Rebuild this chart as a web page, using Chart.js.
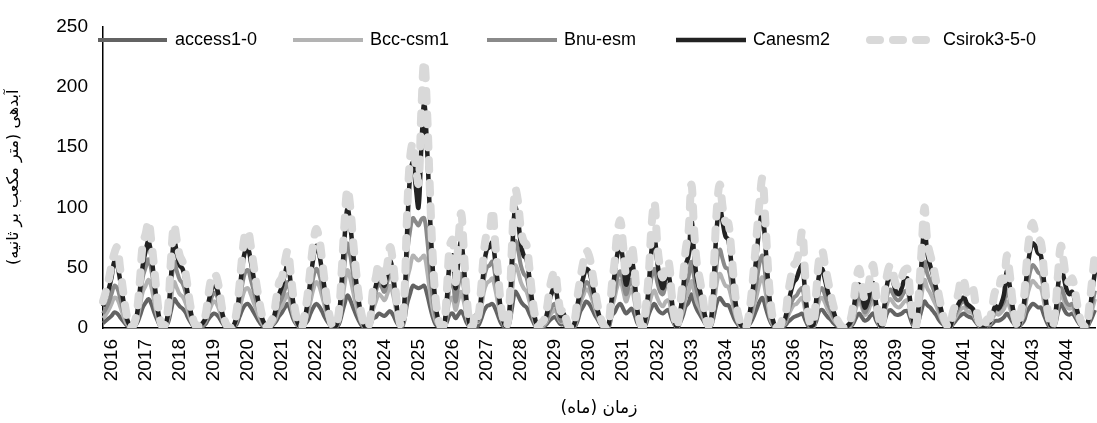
<!DOCTYPE html>
<html>
<head>
<meta charset="utf-8">
<script src="https://cdn.jsdelivr.net/npm/chart.js@4.4.1/dist/chart.umd.min.js"></script>
<style>
  html, body { margin: 0; padding: 0; background: #fff; overflow: hidden; }
  #wrap { width: 1097px; height: 423px; position: relative; }
</style>
</head>
<body>
<div id="wrap"><canvas id="chart"></canvas></div>
<script>
// tick labels (one per year, shown at January; the series start in October 2015)
const yearLabels = ['2016','2017','2018','2019','2020','2021','2022','2023','2024','2025',
  '2026','2027','2028','2029','2030','2031','2032','2033','2034','2035','2036','2037',
  '2038','2039','2040','2041','2042','2043','2044']

const seriesNames = ['access1-0', 'Bcc-csm1', 'Bnu-esm', 'Canesm2', 'Csirok3-5-0']

// monthly discharge, one row per water year (Oct..Sep)
const access = [
  4, 6, 8, 10, 13, 12, 9, 6, 3, 1, 0, 1,
  4, 10, 17, 21, 24, 20, 13, 7, 2, 0, 1, 5,
  15, 24, 21, 18, 16, 13, 8, 4, 1, 0, 1, 1,
  3, 7, 10, 12, 11, 8, 4, 1, 0, 0, 1, 3,
  9, 15, 19, 20, 17, 13, 9, 5, 2, 1, 0, 1,
  3, 6, 10, 13, 17, 20, 14, 7, 3, 1, 0, 3,
  6, 12, 17, 20, 18, 14, 9, 5, 2, 0, 1, 3,
  11, 20, 27, 23, 17, 11, 6, 2, 1, 0, 2, 8,
  9, 12, 11, 10, 12, 14, 11, 6, 2, 0, 6, 20,
  28, 35, 34, 33, 34, 35, 28, 18, 9, 3, 1, 0,
  0, 5, 11, 12, 8, 11, 14, 10, 4, 1, 0, 2,
  2, 7, 14, 18, 19, 20, 16, 10, 4, 1, 0, 4,
  18, 30, 27, 22, 19, 17, 12, 7, 2, 0, 1, 1,
  3, 6, 8, 9, 6, 3, 3, 1, 0, 0, 1, 6,
  14, 18, 22, 20, 16, 11, 7, 3, 1, 0, 1, 10,
  13, 18, 20, 16, 12, 14, 16, 11, 4, 1, 0, 3,
  11, 17, 20, 16, 13, 12, 14, 15, 8, 3, 0, 4,
  10, 18, 21, 28, 21, 15, 11, 7, 3, 1, 2, 11,
  21, 25, 22, 19, 19, 14, 8, 4, 1, 0, 0, 2,
  5, 10, 16, 22, 25, 18, 10, 4, 1, 0, 0, 1,
  2, 5, 7, 9, 10, 11, 12, 7, 2, 0, 1, 6,
  14, 15, 12, 9, 7, 4, 2, 1, 0, 0, 0, 1,
  4, 9, 12, 9, 6, 7, 10, 12, 6, 2, 0, 6,
  13, 15, 13, 11, 11, 12, 14, 14, 8, 2, 0, 6,
  15, 22, 19, 17, 14, 11, 7, 4, 2, 0, 0, 3,
  6, 9, 11, 12, 10, 9, 8, 5, 2, 0, 0, 2,
  2, 4, 6, 6, 7, 9, 12, 9, 5, 2, 0, 3,
  6, 13, 17, 20, 19, 17, 17, 11, 5, 1, 0, 3,
  13, 20, 16, 12, 11, 12, 9, 5, 2, 1, 0, 4,
  9, 15
]

const bcc = [
  8, 11, 15, 20, 25, 24, 18, 11, 5, 2, 0, 1,
  7, 18, 30, 35, 40, 34, 22, 11, 3, 1, 2, 8,
  24, 38, 33, 28, 26, 21, 13, 6, 2, 0, 1, 2,
  5, 12, 18, 22, 20, 14, 7, 2, 1, 0, 1, 6,
  15, 25, 32, 33, 28, 21, 15, 9, 4, 1, 0, 2,
  4, 9, 15, 18, 24, 28, 20, 10, 4, 1, 0, 4,
  12, 22, 32, 38, 35, 27, 18, 9, 3, 0, 1, 5,
  19, 36, 48, 41, 30, 19, 11, 4, 1, 0, 3, 15,
  22, 28, 26, 23, 28, 35, 28, 16, 5, 1, 10, 40,
  50, 60, 58, 56, 58, 60, 48, 30, 15, 6, 2, 0,
  1, 11, 23, 25, 15, 23, 30, 21, 9, 1, 0, 5,
  5, 15, 30, 37, 39, 41, 32, 20, 9, 3, 0, 9,
  32, 52, 47, 38, 33, 30, 22, 12, 4, 0, 1, 2,
  5, 10, 13, 15, 10, 5, 5, 2, 0, 0, 2, 10,
  21, 27, 32, 30, 24, 17, 10, 4, 1, 0, 2, 16,
  25, 35, 39, 31, 22, 28, 32, 22, 8, 2, 0, 6,
  17, 27, 31, 25, 20, 18, 22, 23, 13, 4, 0, 6,
  14, 25, 30, 39, 30, 21, 16, 10, 4, 1, 4, 20,
  38, 45, 40, 35, 34, 26, 15, 7, 2, 0, 0, 3,
  9, 18, 27, 37, 42, 31, 17, 6, 2, 0, 0, 2,
  4, 10, 15, 19, 20, 23, 25, 15, 5, 1, 1, 12,
  23, 25, 21, 15, 11, 7, 4, 2, 0, 0, 1, 2,
  7, 17, 22, 17, 11, 13, 19, 22, 12, 3, 0, 12,
  21, 24, 21, 18, 17, 19, 22, 23, 13, 4, 0, 10,
  27, 40, 33, 29, 24, 19, 13, 7, 3, 1, 0, 5,
  9, 13, 16, 17, 14, 13, 12, 7, 3, 1, 0, 3,
  3, 8, 12, 11, 13, 16, 22, 17, 9, 3, 0, 5,
  11, 25, 34, 39, 37, 34, 33, 22, 10, 3, 0, 6,
  19, 28, 23, 18, 16, 17, 12, 7, 3, 1, 0, 7,
  15, 24
]

const bnu = [
  12, 16, 21, 28, 35, 33, 25, 16, 8, 3, 1, 2,
  10, 25, 42, 50, 57, 48, 32, 16, 5, 1, 2, 11,
  35, 55, 47, 40, 37, 30, 19, 9, 3, 1, 1, 2,
  6, 16, 24, 29, 27, 19, 10, 3, 1, 0, 2, 8,
  22, 36, 46, 48, 40, 31, 22, 13, 6, 2, 1, 3,
  6, 13, 20, 25, 32, 38, 27, 14, 6, 1, 1, 6,
  16, 29, 42, 49, 45, 35, 23, 12, 4, 1, 1, 7,
  28, 53, 70, 60, 44, 28, 16, 6, 1, 0, 4, 20,
  30, 37, 34, 30, 38, 47, 38, 21, 7, 1, 15, 60,
  80, 91, 88, 85, 90, 91, 75, 48, 25, 10, 3, 0,
  1, 16, 35, 38, 22, 35, 45, 32, 13, 2, 1, 7,
  6, 20, 40, 50, 52, 55, 43, 27, 12, 4, 1, 12,
  45, 72, 65, 52, 45, 42, 30, 16, 6, 1, 2, 3,
  6, 13, 18, 20, 13, 6, 7, 3, 1, 0, 3, 13,
  25, 32, 38, 36, 29, 20, 12, 5, 1, 0, 3, 20,
  30, 42, 47, 38, 28, 35, 40, 28, 10, 2, 1, 8,
  25, 42, 49, 38, 30, 28, 35, 36, 20, 6, 1, 8,
  20, 35, 42, 55, 42, 30, 22, 14, 6, 1, 5, 28,
  55, 65, 57, 50, 49, 37, 22, 10, 3, 1, 0, 4,
  13, 25, 39, 54, 60, 44, 24, 9, 2, 0, 0, 3,
  5, 13, 20, 25, 27, 31, 33, 20, 7, 1, 2, 17,
  30, 33, 27, 20, 15, 9, 5, 2, 1, 0, 1, 3,
  10, 21, 28, 21, 13, 17, 24, 28, 15, 4, 1, 15,
  28, 32, 28, 24, 23, 26, 30, 31, 17, 5, 1, 14,
  38, 55, 45, 39, 33, 26, 18, 10, 4, 1, 0, 7,
  12, 17, 21, 22, 18, 17, 15, 9, 3, 1, 0, 4,
  4, 10, 16, 15, 18, 22, 31, 24, 12, 4, 1, 7,
  15, 33, 45, 52, 50, 46, 44, 30, 13, 4, 1, 8,
  23, 33, 28, 21, 19, 20, 15, 8, 3, 1, 0, 9,
  20, 31
]

const canesm = [
  18, 25, 32, 42, 55, 52, 40, 25, 12, 4, 1, 3,
  12, 32, 52, 64, 72, 60, 40, 20, 6, 1, 3, 15,
  45, 73, 62, 52, 49, 40, 25, 12, 4, 1, 2, 4,
  8, 20, 30, 36, 33, 24, 12, 4, 1, 0, 2, 10,
  30, 50, 64, 66, 55, 42, 30, 18, 8, 3, 1, 4,
  8, 18, 28, 35, 45, 53, 38, 20, 8, 2, 1, 8,
  22, 40, 58, 68, 62, 48, 32, 16, 6, 1, 2, 10,
  40, 75, 99, 85, 62, 40, 22, 9, 2, 0, 5, 25,
  35, 44, 40, 35, 45, 56, 45, 25, 8, 1, 20, 80,
  125, 137, 118, 100, 150, 186, 150, 95, 50, 20, 6, 1,
  2, 25, 55, 60, 33, 55, 72, 50, 20, 3, 1, 10,
  8, 25, 50, 65, 67, 71, 55, 35, 15, 5, 1, 15,
  65, 100, 90, 70, 60, 57, 42, 22, 8, 1, 2, 5,
  10, 22, 30, 35, 22, 10, 12, 5, 1, 0, 5, 20,
  32, 42, 49, 47, 38, 26, 15, 7, 2, 0, 4, 25,
  45, 62, 68, 55, 36, 45, 57, 40, 15, 3, 1, 12,
  35, 65, 75, 55, 40, 33, 42, 44, 25, 8, 1, 12,
  30, 52, 60, 90, 60, 40, 31, 20, 8, 2, 8, 45,
  85, 100, 88, 76, 73, 55, 32, 14, 5, 1, 0, 6,
  20, 40, 62, 85, 95, 70, 38, 15, 4, 1, 0, 5,
  8, 20, 30, 38, 41, 48, 52, 30, 10, 2, 3, 25,
  45, 49, 40, 30, 22, 14, 7, 3, 1, 0, 2, 5,
  15, 30, 36, 28, 17, 22, 32, 37, 20, 6, 1, 20,
  38, 44, 38, 30, 28, 33, 40, 41, 22, 6, 1, 20,
  55, 84, 62, 52, 44, 34, 24, 14, 6, 2, 1, 10,
  15, 20, 24, 25, 20, 18, 16, 10, 4, 1, 0, 5,
  5, 12, 18, 16, 20, 28, 47, 35, 18, 6, 1, 10,
  20, 45, 62, 70, 68, 62, 60, 40, 18, 5, 1, 10,
  35, 51, 42, 32, 28, 30, 22, 12, 5, 2, 1, 12,
  30, 47
]

const csiro = [
  22, 30, 40, 52, 62, 67, 50, 32, 15, 5, 1, 4,
  15, 40, 70, 78, 88, 72, 50, 26, 8, 1, 4, 20,
  60, 85, 72, 60, 55, 46, 30, 15, 5, 1, 3, 5,
  10, 26, 40, 45, 42, 30, 15, 5, 1, 0, 3, 14,
  35, 60, 78, 80, 68, 52, 36, 22, 10, 4, 1, 5,
  10, 25, 38, 42, 55, 64, 46, 25, 10, 3, 1, 12,
  28, 50, 70, 82, 75, 58, 38, 20, 7, 1, 3, 14,
  48, 88, 115, 100, 72, 48, 26, 11, 3, 0, 7, 32,
  42, 53, 46, 38, 52, 67, 55, 30, 10, 1, 25, 95,
  140, 153, 135, 120, 180, 221, 180, 115, 60, 25, 8, 1,
  3, 32, 68, 73, 38, 70, 95, 62, 25, 4, 1, 14,
  10, 32, 62, 78, 80, 98, 70, 45, 19, 6, 1, 20,
  75, 115, 105, 82, 72, 69, 50, 27, 10, 1, 4, 6,
  14, 30, 42, 47, 30, 14, 16, 7, 1, 0, 7, 27,
  42, 55, 64, 60, 48, 33, 19, 9, 3, 0, 5, 35,
  55, 80, 89, 68, 45, 58, 68, 50, 20, 4, 1, 18,
  45, 85, 104, 70, 50, 42, 52, 55, 30, 10, 1, 18,
  40, 65, 80, 119, 80, 52, 40, 25, 10, 2, 10, 55,
  100, 119, 100, 88, 87, 65, 38, 17, 6, 1, 0, 8,
  25, 50, 78, 105, 124, 90, 48, 19, 5, 1, 0, 7,
  10, 28, 42, 52, 55, 65, 80, 45, 14, 3, 4, 32,
  58, 64, 52, 40, 28, 18, 9, 4, 1, 0, 3, 7,
  20, 40, 49, 36, 24, 30, 45, 52, 27, 8, 1, 28,
  46, 52, 45, 36, 35, 42, 48, 49, 27, 8, 1, 28,
  65, 100, 72, 61, 52, 40, 28, 16, 7, 2, 1, 13,
  20, 30, 41, 38, 28, 30, 33, 20, 7, 2, 0, 7,
  8, 20, 31, 30, 41, 40, 60, 45, 22, 7, 1, 14,
  25, 55, 77, 87, 80, 74, 71, 48, 22, 6, 1, 14,
  45, 68, 55, 40, 38, 41, 30, 16, 6, 2, 1, 18,
  40, 63
]

const yTitle = 'آبدهی (متر مکعب بر ثانیه)'
const xTitle = 'زمان (ماه)'

// one category per month, the year label sits on January
const monthLabels = canesm.map((v, i) => (i % 12 === 3 ? yearLabels[(i - 3) / 12] : ''))

const styles = [
  { color: '#636363', width: 4, dash: [], order: 5 },
  { color: '#b3b3b3', width: 4, dash: [], order: 4 },
  { color: '#8a8a8a', width: 4, dash: [], order: 3 },
  { color: '#222222', width: 4.5, dash: [], order: 2 },
  { color: '#d9d9d9', width: 8, dash: [10, 13], order: 1 }
]
const values = [access, bcc, bnu, canesm, csiro]

// legend drawn inside the plot, like the original
const legendPos = [
  { x0: 98, x1: 167, tx: 175 },
  { x0: 293, x1: 363, tx: 370 },
  { x0: 487, x1: 557, tx: 564 },
  { x0: 676, x1: 746, tx: 753 },
  { x0: 866, x1: 931, tx: 943 }
]
const insideLegend = {
  id: 'insideLegend',
  afterDraw(chart) {
    const c = chart.ctx
    const y = 40
    c.save()
    chart.data.datasets.forEach((ds, i) => {
      const p = legendPos[i]
      const dashed = ds.borderDash && ds.borderDash.length
      c.beginPath()
      c.strokeStyle = ds.borderColor
      c.lineWidth = ds.borderWidth
      c.setLineDash(ds.borderDash || [])
      c.lineCap = dashed ? 'round' : 'butt'
      const pad = dashed ? ds.borderWidth / 2 : 0
      c.moveTo(p.x0 + pad, y)
      c.lineTo(p.x1 - pad, y)
      c.stroke()
      c.setLineDash([])
      c.fillStyle = '#000'
      c.font = '18px "Liberation Sans"'
      c.textBaseline = 'middle'
      c.textAlign = 'left'
      c.fillText(ds.label, p.tx, y)
    })
    c.restore()
  }
}

const ctx = document.getElementById('chart')

new Chart(ctx, {
  type: 'line',
  data: {
    labels: monthLabels,
    datasets: seriesNames.map((name, i) => ({
      label: name,
      data: values[i],
      borderColor: styles[i].color,
      borderWidth: styles[i].width,
      borderDash: styles[i].dash,
      borderCapStyle: styles[i].dash.length ? 'round' : 'butt',
      borderJoinStyle: 'round',
      order: styles[i].order,
      pointRadius: 0,
      tension: 0.4,
      fill: false
    }))
  },
  options: {
    responsive: true,
    maintainAspectRatio: false,
    animation: false,
    layout: { padding: { left: 0, top: 17, right: 2, bottom: 0 } },
    plugins: {
      legend: { display: false },
      tooltip: { enabled: false }
    },
    scales: {
      x: {
        grid: { display: false, drawTicks: false },
        border: { display: true, color: '#000', width: 1.5 },
        ticks: {
          autoSkip: false,
          maxRotation: 90,
          minRotation: 90,
          padding: 11,
          color: '#000',
          font: { family: 'Liberation Sans', size: 19 },
          callback: (v, i) => monthLabels[i]
        },
        title: {
          display: true,
          text: xTitle,
          color: '#000',
          font: { family: 'DejaVu Sans', size: 17 },
          padding: { top: 0, bottom: 4 }
        },
        afterFit: s => {
          s.height = 95
          s.paddingLeft = 0
          s.paddingRight = 0
        }
      },
      y: {
        min: 0,
        max: 250,
        grid: { display: false, drawTicks: false },
        border: { display: true, color: '#000', width: 1.5 },
        ticks: {
          stepSize: 50,
          padding: 15,
          color: '#000',
          font: { family: 'Liberation Sans', size: 19 }
        },
        title: {
          display: true,
          text: yTitle,
          color: '#000',
          font: { family: 'DejaVu Sans', size: 16 },
          padding: { top: 4, bottom: 0 }
        },
        afterFit: s => { s.width = 103 }
      }
    }
  },
  plugins: [insideLegend]
})
</script>
</body>
</html>
